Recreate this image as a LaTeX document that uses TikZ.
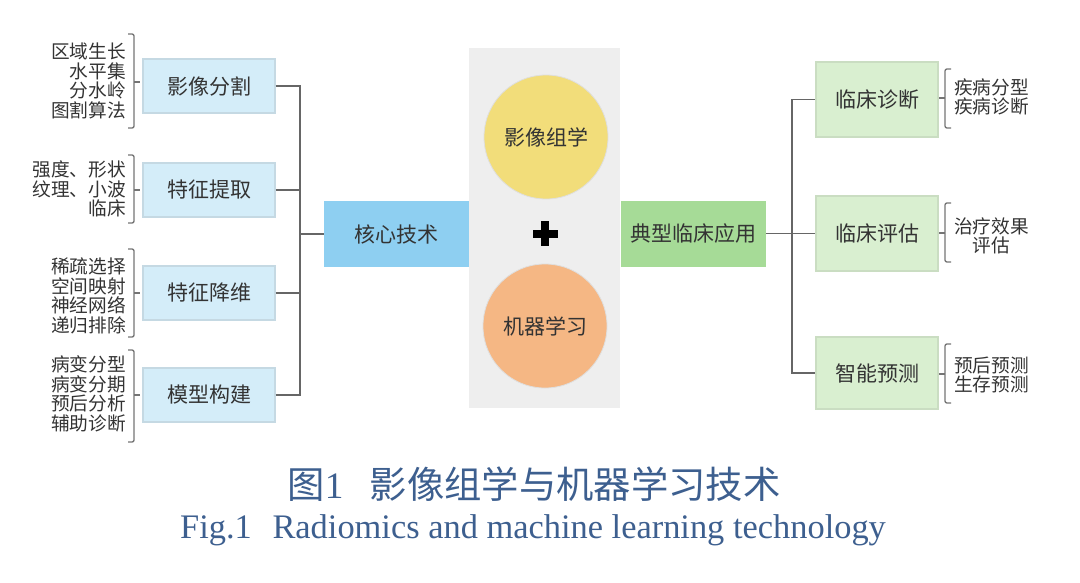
\documentclass[tikz,border=0pt]{standalone}
\usepackage{fontspec}
\setmainfont{Liberation Serif}
\newfontfamily\cjk{Noto Sans CJK SC}
\definecolor{lboxfill}{HTML}{D4EDF9}
\definecolor{lboxline}{HTML}{C5D9E3}
\definecolor{corefill}{HTML}{8ECFF1}
\definecolor{appfill}{HTML}{A6DB97}
\definecolor{rboxfill}{HTML}{D9EFD0}
\definecolor{rboxline}{HTML}{CADDC2}
\definecolor{panelgray}{HTML}{EEEEEE}
\definecolor{yel}{HTML}{F2DD7A}
\definecolor{ora}{HTML}{F5B784}
\definecolor{linegray}{HTML}{666666}
\definecolor{capblue}{HTML}{3D5F8F}
\definecolor{txt}{HTML}{333333}
\begin{document}
\begin{tikzpicture}[x=0.75pt,y=-0.75pt,
  boxtext/.style={font=\cjk\fontsize{15.75}{18}\selectfont, text=txt, inner sep=0pt},
  lbox/.style={boxtext, draw=lboxline, fill=lboxfill, line width=0.8pt, minimum width=99pt, minimum height=40.5pt},
  rbox/.style={boxtext, draw=rboxline, fill=rboxfill, line width=0.8pt, minimum width=91.5pt, minimum height=56.25pt},
  bigbox/.style={boxtext, minimum width=108.75pt, minimum height=49.5pt},
  disc/.style={boxtext, circle, draw=gray!25, line width=0.6pt, minimum size=93pt},
  listtext/.style={font=\cjk\fontsize{14}{14.6}\selectfont, text=txt, inner sep=0pt},
  conn/.style={draw=linegray, line width=1.4pt},
  brk/.style={draw=linegray!90, line width=1pt, rounded corners=1.5pt}]
\useasboundingbox (0,0) rectangle (1080,582);
\fill[white] (0,0) rectangle (1080,582);
\fill[panelgray] (469,48) rectangle (620,408);

% left boxes
\node[lbox] (seg) at (209,86) {影像分割};
\node[lbox] (fe)  at (209,190) {特征提取};
\node[lbox] (fr)  at (209,293) {特征降维};
\node[lbox] (mb)  at (209,395) {模型构建};

% left lists
\node[listtext, align=right, anchor=east] (l1) at (126,81) {区域生长\\水平集\\分水岭\\图割算法};
\node[listtext, align=right, anchor=east] (l2) at (126,189) {强度、形状\\纹理、小波\\临床};
\node[listtext, align=right, anchor=east] (l3) at (126,296) {稀疏选择\\空间映射\\神经网络\\递归排除};
\node[listtext, align=right, anchor=east] (l4) at (126,394) {病变分型\\病变分期\\预后分析\\辅助诊断};

% left brackets
\draw[brk] (128,34) -- (134,34) -- (134,128) -- (128,128);
\draw[brk] (134,82) -- (140,82);
\draw[brk] (128,155) -- (134,155) -- (134,223) -- (128,223);
\draw[brk] (134,190) -- (140,190);
\draw[brk] (128,249) -- (134,249) -- (134,337) -- (128,337);
\draw[brk] (134,293) -- (140,293);
\draw[brk] (128,350) -- (134,350) -- (134,442) -- (128,442);
\draw[brk] (134,395) -- (140,395);

% core
\node[bigbox, fill=corefill] (core) at (396.5,234) {核心技术};
\coordinate (J) at (300,234);
\draw[conn] (seg.east) -| (J);
\draw[conn] (fe.east) -| (J);
\draw[conn] (fr.east) -| (J);
\draw[conn] (mb.east) -| (J);
\draw[conn] (J) -- (core.west);

% circles
\node[disc, fill=yel] (rad) at (546,137) {影像组学};
\node[disc, fill=ora] (ml) at (545,326) {机器学习};
\fill[black] (532.5,229.5) rectangle (557.5,237.5);
\fill[black] (541,221) rectangle (549,246);

% application
\node[bigbox, fill=appfill] (app) at (693.5,233.5) {典型临床应用};
\node[rbox] (diag) at (877,99.5) {临床诊断};
\node[rbox] (eval) at (877,233.5) {临床评估};
\node[rbox, minimum height=54pt] (pred) at (877,373) {智能预测};
\coordinate (K) at (792,233.5);
\draw[conn] (app.east) -- (K);
\draw[conn] (K) |- (diag.west);
\draw[conn] (K) |- (eval.west);
\draw[conn] (K) |- (pred.west);

% right brackets
\draw[brk] (951,69) -- (945,69) -- (945,128) -- (951,128);
\draw[brk] (945,98) -- (939,98);
\draw[brk] (951,203) -- (945,203) -- (945,262) -- (951,262);
\draw[brk] (945,233) -- (939,233);
\draw[brk] (951,344) -- (945,344) -- (945,403) -- (951,403);
\draw[brk] (945,374) -- (939,374);

% right lists
\node[listtext, align=left, anchor=west] (r1) at (954,97) {疾病分型\\疾病诊断};
\node[listtext, align=center, anchor=west] (r2) at (954,236) {治疗效果\\评估};
\node[listtext, align=left, anchor=west] (r3) at (954,375) {预后预测\\生存预测};

% caption
\node[font=\cjk\fontsize{28}{30}\selectfont, text=capblue, inner sep=0pt] (cap1) at (534,484) {图{\rmfamily 1}\hspace{0.7em}影像组学与机器学习技术};
\node[font=\fontsize{25.8}{28}\selectfont, text=capblue, inner sep=0pt] (cap2) at (533,530) {Fig.1\hspace{0.6em}Radiomics and machine learning technology};
\end{tikzpicture}
\end{document}
